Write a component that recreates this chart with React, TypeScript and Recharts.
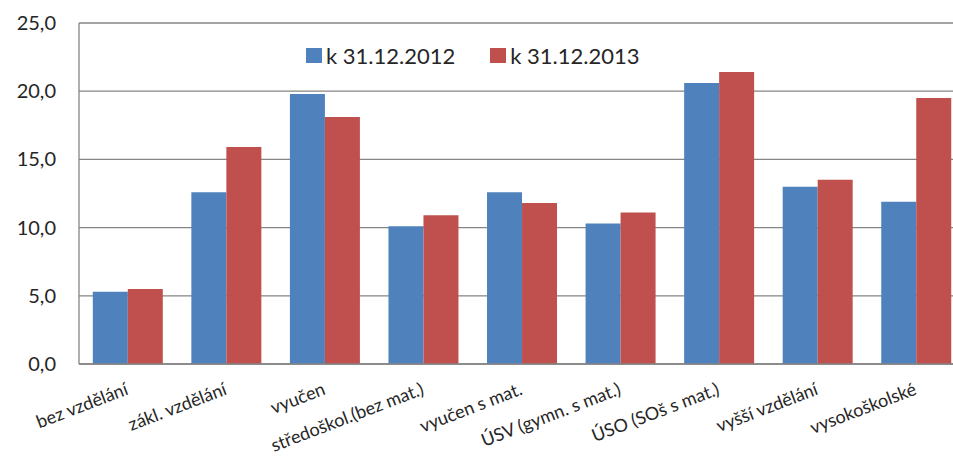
import { BarChart, Bar, XAxis, YAxis, CartesianGrid } from 'recharts'

const categories = [
  'bez vzdělání',
  'zákl. vzdělání',
  'vyučen',
  'středoškol.(bez mat.)',
  'vyučen s mat.',
  'ÚSV (gymn. s mat.)',
  'ÚSO (SOš s mat.)',
  'vyšší vzdělání',
  'vysokoškolské',
]
const values2012 = [5.3, 12.6, 19.8, 10.1, 12.6, 10.3, 20.6, 13.0, 11.9]
const values2013 = [5.5, 15.9, 18.1, 10.9, 11.8, 11.1, 21.4, 13.5, 19.5]
const yTicks = [0, 5, 10, 15, 20, 25]

const series = [
  { key: 'y2012', name: 'k 31.12.2012', color: '#4F81BD' },
  { key: 'y2013', name: 'k 31.12.2013', color: '#C0504D' },
]

const data = categories.map((name, i) => ({
  name,
  y2012: values2012[i],
  y2013: values2013[i],
}))

const FONT = 'Lato, "Open Sans", sans-serif'
const GRID = '#858585'

const fmt = (v: number) => v.toFixed(1).replace('.', ',')

// category labels, slanted up to the right, ending under the group centre
function SlantedTick(props: any) {
  const { x, y, payload } = props
  return (
    <g transform={`translate(${x + 1}, ${y + 22})`}>
      <text
        x={0}
        y={0}
        textAnchor="end"
        fontFamily={FONT}
        fontSize={18}
        fill="#262626"
        transform="rotate(-21)"
      >
        {payload.value}
      </text>
    </g>
  )
}

// value labels with a decimal comma, right edge a little left of the axis
function ValueTick(props: any) {
  const { y, payload } = props
  return (
    <text x={56} y={y} dy={7} textAnchor="end" fontFamily={FONT} fontSize={20} fill="#262626">
      {fmt(payload.value)}
    </text>
  )
}

function LegendBox() {
  return (
    <div
      style={{
        position: 'absolute',
        left: 306,
        top: 42,
        display: 'flex',
        alignItems: 'center',
        fontFamily: FONT,
        fontSize: 22,
        color: '#262626',
      }}
    >
      {series.map((s, i) => (
        <div key={s.key} style={{ display: 'flex', alignItems: 'center', marginRight: i === 0 ? 35 : 0 }}>
          <span style={{ width: 16, height: 15, background: s.color, display: 'inline-block', marginRight: 4 }} />
          <span>{s.name}</span>
        </div>
      ))}
    </div>
  )
}

export default function App() {
  return (
    <div style={{ position: 'absolute', left: 0, top: 0, width: 953, height: 460, overflow: 'hidden', background: '#fff' }}>
      <BarChart
        width={966}
        height={460}
        data={data}
        margin={{ top: 23, right: 0, bottom: 0, left: 0 }}
        barCategoryGap="14%"
        barGap={0}
      >
        <CartesianGrid vertical={false} stroke={GRID} strokeWidth={1.3} />
        <XAxis
          dataKey="name"
          height={96}
          interval={0}
          axisLine={{ stroke: GRID, strokeWidth: 1.3 }}
          tickLine={false}
          tick={<SlantedTick />}
        />
        <YAxis
          width={79}
          domain={[0, 25]}
          ticks={yTicks}
          axisLine={{ stroke: GRID, strokeWidth: 1.3 }}
          tickLine={false}
          tick={<ValueTick />}
        />
        {series.map((s) => (
          <Bar key={s.key} dataKey={s.key} name={s.name} fill={s.color} isAnimationActive={false} />
        ))}
      </BarChart>
      <LegendBox />
    </div>
  )
}
